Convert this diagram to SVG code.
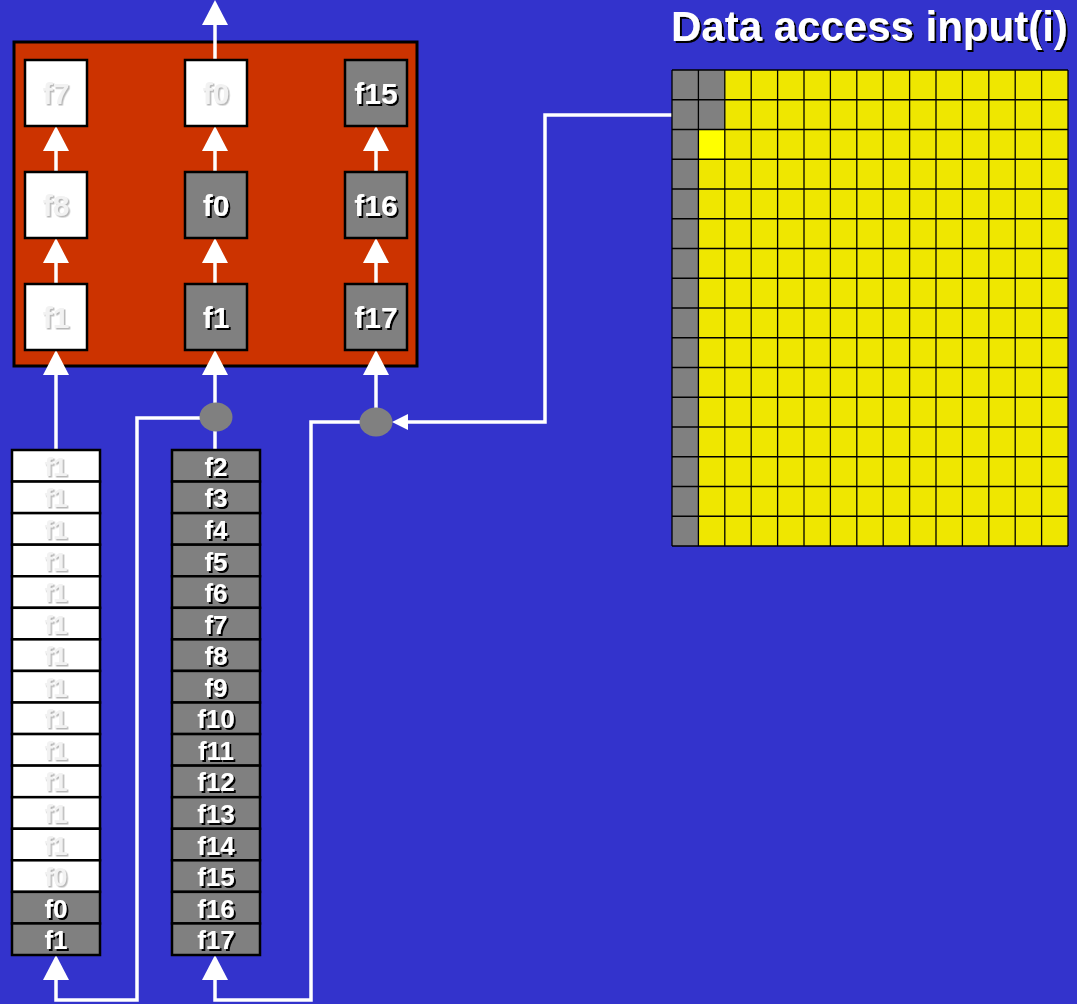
<svg xmlns="http://www.w3.org/2000/svg" width="1077" height="1004" viewBox="0 0 1077 1004">
<defs>
<style>
.bx{stroke:#000;stroke-width:2.5}
.w{fill:#fff}
.g{fill:#808080}
.tw{font-family:"Liberation Sans",Arial,sans-serif;font-weight:bold;fill:#fff;text-anchor:middle;filter:url(#sh)}
.tl{font-family:"Liberation Sans",Arial,sans-serif;font-weight:bold;fill:#f2f2f2;text-anchor:middle;filter:url(#shl)}
.big{font-size:30px}
.sm{font-size:26px}
.ln{stroke:#fff;stroke-width:3.5;fill:none}
.ah{fill:#fff}
</style>
<filter id="sh" x="-20%" y="-20%" width="150%" height="150%"><feDropShadow dx="2" dy="2" stdDeviation="0.3" flood-color="#000" flood-opacity="1"/></filter>
<filter id="shl" x="-20%" y="-20%" width="150%" height="150%"><feDropShadow dx="1.5" dy="1.5" stdDeviation="0.3" flood-color="#b8b8b8" flood-opacity="1"/></filter>
<path id="up" d="M0,0 L13,25 L-13,25 Z"/>
</defs>
<rect width="1077" height="1004" fill="#3333CC"/>

<g id="title">
<text x="671" y="41" font-family="Liberation Sans,Arial,sans-serif" font-weight="bold" font-size="42" fill="#fff" filter="url(#sh)">Data access input(i)</text>
</g>

<g id="register-block">
<rect x="14" y="42" width="403" height="324" fill="#CC3300" stroke="#000" stroke-width="3"/>
</g>

<g id="connectors">
<line class="ln" x1="215" y1="60" x2="215" y2="24"/>
<use href="#up" x="215" y="0" class="ah"/>
<line class="ln" x1="56" y1="172" x2="56" y2="150"/><use href="#up" x="56" y="126" class="ah"/>
<line class="ln" x1="215" y1="172" x2="215" y2="150"/><use href="#up" x="215" y="126" class="ah"/>
<line class="ln" x1="376" y1="172" x2="376" y2="150"/><use href="#up" x="376" y="126" class="ah"/>
<line class="ln" x1="56" y1="284" x2="56" y2="262"/><use href="#up" x="56" y="238" class="ah"/>
<line class="ln" x1="215" y1="284" x2="215" y2="262"/><use href="#up" x="215" y="238" class="ah"/>
<line class="ln" x1="376" y1="284" x2="376" y2="262"/><use href="#up" x="376" y="238" class="ah"/>
<line class="ln" x1="56" y1="450" x2="56" y2="373"/><use href="#up" x="56" y="350" class="ah"/>
<line class="ln" x1="215" y1="451" x2="215" y2="373"/><use href="#up" x="215" y="350" class="ah"/>
<line class="ln" x1="376" y1="410" x2="376" y2="373"/><use href="#up" x="376" y="350" class="ah"/>
<polyline class="ln" points="200,418 137,418 137,1000 56,1000 56,980"/>
<use href="#up" x="56" y="955" class="ah"/>
<polyline class="ln" points="360,422 311,422 311,1000 215,1000 215,980"/>
<use href="#up" x="215" y="955" class="ah"/>
<polyline class="ln" points="697,115 545,115 545,422 405,422"/>
<path class="ah" d="M392,422 L408,414 L408,430 Z"/>
</g>

<g id="mux-1"><ellipse cx="216" cy="417" rx="16.5" ry="14.5" fill="#808080"/></g>
<g id="mux-2"><ellipse cx="376" cy="422" rx="16.5" ry="14.5" fill="#808080"/></g>

<g id="reg-col1">
<rect class="bx w" x="25" y="60" width="62" height="66"/><text class="tl big" x="56" y="104">f7</text>
<rect class="bx w" x="25" y="172" width="62" height="66"/><text class="tl big" x="56" y="216">f8</text>
<rect class="bx w" x="25" y="284" width="62" height="66"/><text class="tl big" x="56" y="328">f1</text>
</g>
<g id="reg-col2">
<rect class="bx w" x="185" y="60" width="62" height="66"/><text class="tl big" x="216" y="104">f0</text>
<rect class="bx g" x="185" y="172" width="62" height="66"/><text class="tw big" x="216" y="216">f0</text>
<rect class="bx g" x="185" y="284" width="62" height="66"/><text class="tw big" x="216" y="328">f1</text>
</g>
<g id="reg-col3">
<rect class="bx g" x="345" y="60" width="62" height="66"/><text class="tw big" x="376" y="104">f15</text>
<rect class="bx g" x="345" y="172" width="62" height="66"/><text class="tw big" x="376" y="216">f16</text>
<rect class="bx g" x="345" y="284" width="62" height="66"/><text class="tw big" x="376" y="328">f17</text>
</g>

<g id="stack-1">
<rect class="bx w" x="12" y="450" width="88" height="31.56"/><text class="tl sm" x="56" y="475.8">f1</text>
<rect class="bx w" x="12" y="481.56" width="88" height="31.56"/><text class="tl sm" x="56" y="507.3">f1</text>
<rect class="bx w" x="12" y="513.12" width="88" height="31.56"/><text class="tl sm" x="56" y="538.9">f1</text>
<rect class="bx w" x="12" y="544.69" width="88" height="31.56"/><text class="tl sm" x="56" y="570.5">f1</text>
<rect class="bx w" x="12" y="576.25" width="88" height="31.56"/><text class="tl sm" x="56" y="602">f1</text>
<rect class="bx w" x="12" y="607.81" width="88" height="31.56"/><text class="tl sm" x="56" y="633.6">f1</text>
<rect class="bx w" x="12" y="639.37" width="88" height="31.56"/><text class="tl sm" x="56" y="665.2">f1</text>
<rect class="bx w" x="12" y="670.94" width="88" height="31.56"/><text class="tl sm" x="56" y="696.7">f1</text>
<rect class="bx w" x="12" y="702.5" width="88" height="31.56"/><text class="tl sm" x="56" y="728.3">f1</text>
<rect class="bx w" x="12" y="734.06" width="88" height="31.56"/><text class="tl sm" x="56" y="759.8">f1</text>
<rect class="bx w" x="12" y="765.62" width="88" height="31.56"/><text class="tl sm" x="56" y="791.4">f1</text>
<rect class="bx w" x="12" y="797.19" width="88" height="31.56"/><text class="tl sm" x="56" y="823">f1</text>
<rect class="bx w" x="12" y="828.75" width="88" height="31.56"/><text class="tl sm" x="56" y="854.5">f1</text>
<rect class="bx w" x="12" y="860.31" width="88" height="31.56"/><text class="tl sm" x="56" y="886.1">f0</text>
<rect class="bx g" x="12" y="891.87" width="88" height="31.56"/><text class="tw sm" x="56" y="917.7">f0</text>
<rect class="bx g" x="12" y="923.44" width="88" height="31.56"/><text class="tw sm" x="56" y="949.2">f1</text>
</g>

<g id="stack-2">
<rect class="bx g" x="172" y="450" width="88" height="31.56"/><text class="tw sm" x="216" y="475.8">f2</text>
<rect class="bx g" x="172" y="481.56" width="88" height="31.56"/><text class="tw sm" x="216" y="507.3">f3</text>
<rect class="bx g" x="172" y="513.12" width="88" height="31.56"/><text class="tw sm" x="216" y="538.9">f4</text>
<rect class="bx g" x="172" y="544.69" width="88" height="31.56"/><text class="tw sm" x="216" y="570.5">f5</text>
<rect class="bx g" x="172" y="576.25" width="88" height="31.56"/><text class="tw sm" x="216" y="602">f6</text>
<rect class="bx g" x="172" y="607.81" width="88" height="31.56"/><text class="tw sm" x="216" y="633.6">f7</text>
<rect class="bx g" x="172" y="639.37" width="88" height="31.56"/><text class="tw sm" x="216" y="665.2">f8</text>
<rect class="bx g" x="172" y="670.94" width="88" height="31.56"/><text class="tw sm" x="216" y="696.7">f9</text>
<rect class="bx g" x="172" y="702.5" width="88" height="31.56"/><text class="tw sm" x="216" y="728.3">f10</text>
<rect class="bx g" x="172" y="734.06" width="88" height="31.56"/><text class="tw sm" x="216" y="759.8">f11</text>
<rect class="bx g" x="172" y="765.62" width="88" height="31.56"/><text class="tw sm" x="216" y="791.4">f12</text>
<rect class="bx g" x="172" y="797.19" width="88" height="31.56"/><text class="tw sm" x="216" y="823">f13</text>
<rect class="bx g" x="172" y="828.75" width="88" height="31.56"/><text class="tw sm" x="216" y="854.5">f14</text>
<rect class="bx g" x="172" y="860.31" width="88" height="31.56"/><text class="tw sm" x="216" y="886.1">f15</text>
<rect class="bx g" x="172" y="891.87" width="88" height="31.56"/><text class="tw sm" x="216" y="917.7">f16</text>
<rect class="bx g" x="172" y="923.44" width="88" height="31.56"/><text class="tw sm" x="216" y="949.2">f17</text>
</g>

<g id="input-grid">
<rect x="672" y="70" width="396" height="476" fill="#EFE700"/>
<rect x="672" y="70" width="26.4" height="476" fill="#808080"/>
<rect x="698.4" y="70" width="26.4" height="59.5" fill="#808080"/>
<rect x="698.4" y="129.5" width="26.4" height="29.75" fill="#FFFF00"/>
<path stroke="#000" stroke-width="1.3" fill="none" d="M672,70V546M698.4,70V546M724.8,70V546M751.2,70V546M777.6,70V546M804,70V546M830.4,70V546M856.8,70V546M883.2,70V546M909.6,70V546M936,70V546M962.4,70V546M988.8,70V546M1015.2,70V546M1041.6,70V546M1068,70V546M672,70H1068M672,99.75H1068M672,129.5H1068M672,159.25H1068M672,189H1068M672,218.75H1068M672,248.5H1068M672,278.25H1068M672,308H1068M672,337.75H1068M672,367.5H1068M672,397.25H1068M672,427H1068M672,456.75H1068M672,486.5H1068M672,516.25H1068M672,546H1068"/>
</g>
</svg>
